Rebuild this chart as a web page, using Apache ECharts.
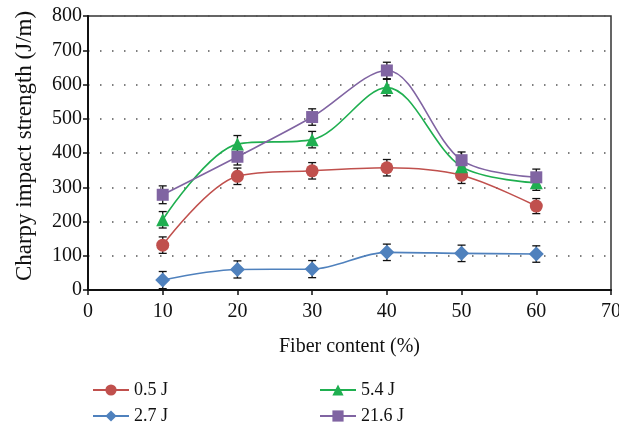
<!DOCTYPE html>
<html>
<head>
<meta charset="utf-8">
<script src="https://cdn.jsdelivr.net/npm/echarts@6/dist/echarts.min.js"></script>
<style>
  html, body { margin: 0; padding: 0; background: #fff; }
  #chart { width: 619px; height: 428px; }
</style>
</head>
<body>
<div id="chart"></div>
<script>
// fiber content (%)
const fiber = [10, 20, 30, 40, 50, 60]
const xTicks = [0, 10, 20, 30, 40, 50, 60, 70]
const yTicks = [0, 100, 200, 300, 400, 500, 600, 700, 800]

// impact energy series
const e05 = [131, 332, 348, 357, 335, 245]
const e27 = [29, 60, 61, 110, 107, 105]
const e54 = [205, 426, 439, 591, 360, 313]
const e216 = [278, 389, 505, 641, 379, 329]

// error bar half-widths
const err05 = [24, 24, 24, 24, 24, 22]
const err27 = [25, 25, 25, 24, 24, 24]
const err54 = [24, 25, 24, 24, 24, 22]
const err216 = [26, 24, 24, 24, 24, 24]

const font = '"Liberation Serif", "DejaVu Serif", serif'

const series = [
  { name: '0.5 J', data: e05, err: err05, color: '#C0504D', symbol: 'circle', size: 13, legendAt: [87, 376] },
  { name: '2.7 J', data: e27, err: err27, color: '#4F81BD', symbol: 'diamond', size: 15, legendAt: [87, 402] },
  { name: '5.4 J', data: e54, err: err54, color: '#1FAF50', symbol: 'triangle', size: 13, legendAt: [314, 376] },
  { name: '21.6 J', data: e216, err: err216, color: '#8064A2', symbol: 'rect', size: 12, legendAt: [314, 402] }
]

function errorItem (params, api) {
  const x = api.value(0)
  const lo = api.coord([x, api.value(1)])
  const hi = api.coord([x, api.value(2)])
  const w = 4
  const st = { stroke: '#111', lineWidth: 1.3 }
  return {
    type: 'group',
    children: [
      { type: 'line', shape: { x1: lo[0], y1: lo[1], x2: hi[0], y2: hi[1] }, style: st },
      { type: 'line', shape: { x1: lo[0] - w, y1: lo[1], x2: lo[0] + w, y2: lo[1] }, style: st },
      { type: 'line', shape: { x1: hi[0] - w, y1: hi[1], x2: hi[0] + w, y2: hi[1] }, style: st }
    ]
  }
}

const chartSeries = []
series.forEach(s => {
  chartSeries.push({
    type: 'custom',
    renderItem: errorItem,
    z: 1,
    silent: true,
    data: fiber.map((f, i) => [f, s.data[i] - s.err[i], s.data[i] + s.err[i]])
  })
})
series.forEach(s => {
  chartSeries.push({
    name: s.name,
    type: 'line',
    smooth: 0.33,
    z: 3,
    symbol: s.symbol,
    symbolSize: s.size,
    showSymbol: true,
    itemStyle: { color: s.color },
    lineStyle: { color: s.color, width: 1.6 },
    data: fiber.map((f, i) => [f, s.data[i]])
  })
})

// one legend per entry so that they stack in two columns
const legends = series.map(s => ({
  data: [s.name],
  left: s.legendAt[0],
  top: s.legendAt[1],
  itemWidth: 36,
  itemHeight: 14,
  itemGap: 10,
  textStyle: { fontFamily: font, fontSize: 18, color: '#111' }
}))

const myChart = echarts.init(document.getElementById('chart'))
myChart.setOption({
  animation: false,
  textStyle: { fontFamily: font },
  grid: {
    left: 88,
    right: 8,
    top: 16,
    bottom: 138,
    outerBoundsMode: 'none',
    containLabel: false,
    show: true,
    borderColor: '#333',
    borderWidth: 1.5
  },
  legend: legends,
  xAxis: {
    type: 'value',
    min: xTicks[0],
    max: xTicks[xTicks.length - 1],
    interval: 10,
    name: 'Fiber content (%)',
    nameLocation: 'middle',
    nameGap: 47,
    nameTextStyle: { fontFamily: font, fontSize: 20, color: '#111' },
    axisLine: { lineStyle: { color: '#111', width: 2 } },
    axisTick: { lineStyle: { color: '#111', width: 1.5 }, length: 5 },
    axisLabel: { fontFamily: font, fontSize: 20, color: '#111', margin: 12 },
    splitLine: { show: false }
  },
  yAxis: {
    type: 'value',
    min: yTicks[0],
    max: yTicks[yTicks.length - 1],
    interval: 100,
    name: 'Charpy impact strength (J/m)',
    nameLocation: 'middle',
    nameGap: 52,
    nameTextStyle: { fontFamily: font, fontSize: 23, color: '#111', padding: [0, 0, 0, 14] },
    axisLine: { show: true, lineStyle: { color: '#111', width: 2 } },
    axisTick: { show: true, lineStyle: { color: '#111', width: 1.5 }, length: 5 },
    axisLabel: { fontFamily: font, fontSize: 20, color: '#111', margin: 6 },
    splitLine: {
      show: true,
      lineStyle: { color: '#555', width: 1.5, type: [1.5, 10.5] }
    }
  },
  series: chartSeries
})
</script>
</body>
</html>
